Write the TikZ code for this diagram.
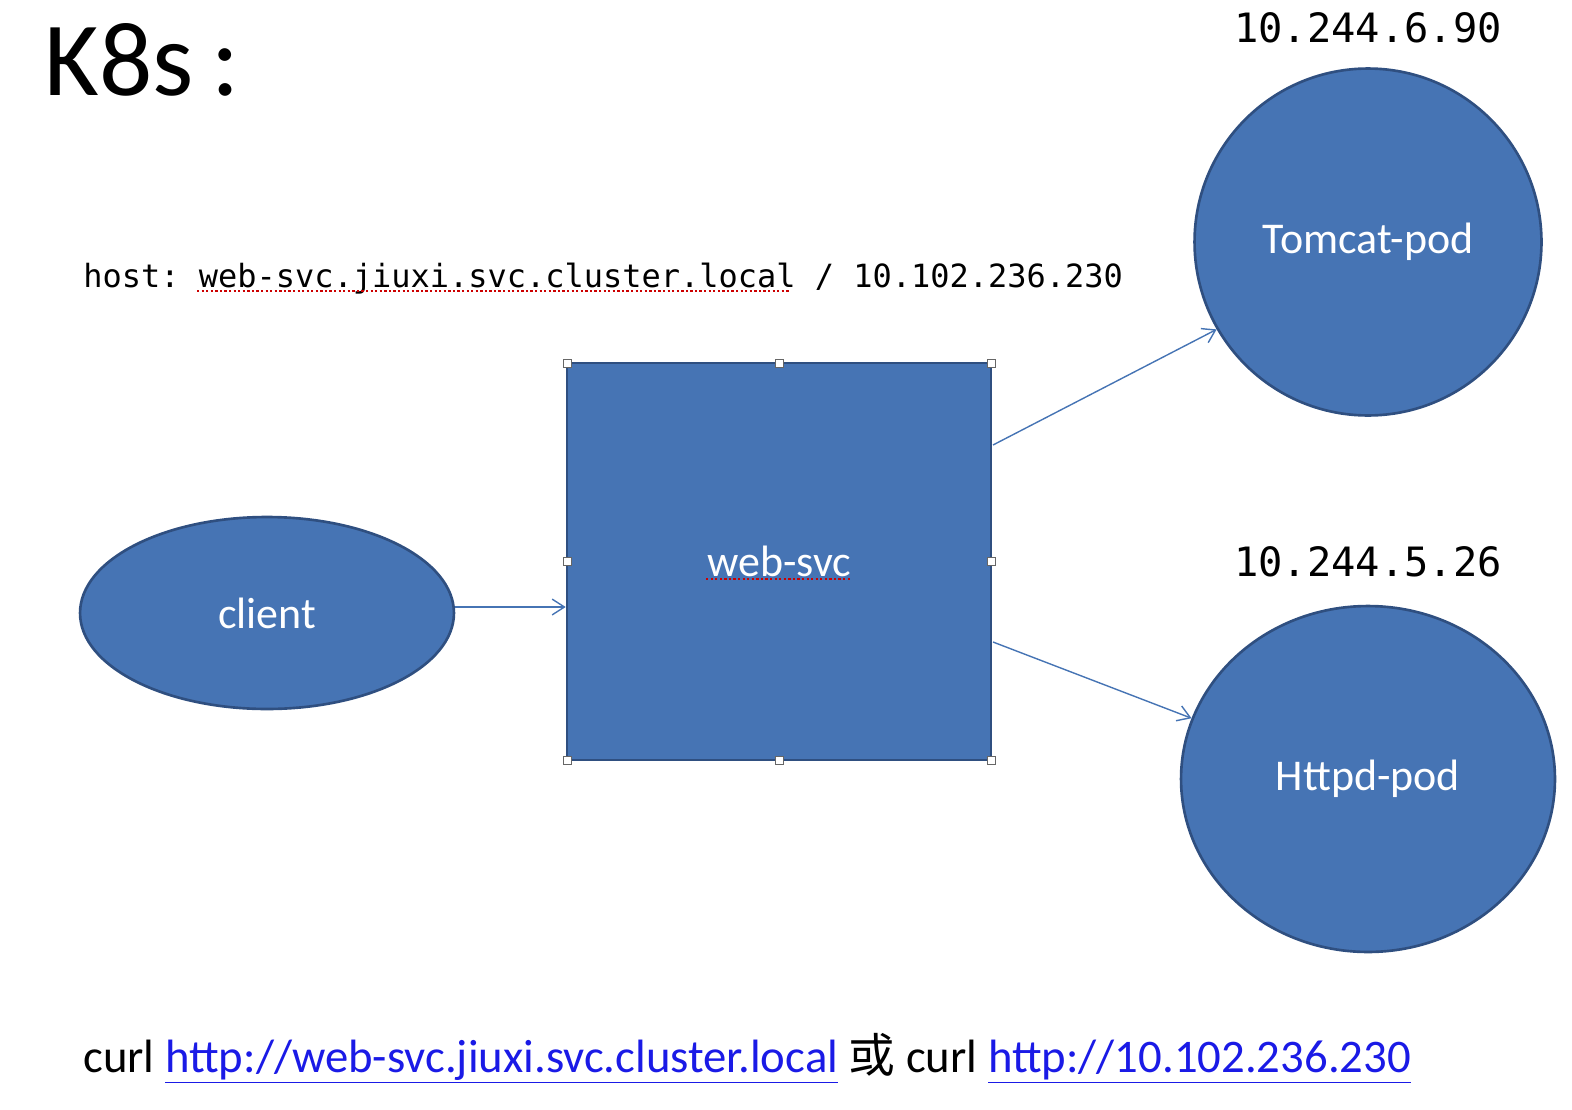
\documentclass[tikz,border=0pt]{standalone}
\usepackage{fontspec}
\setmainfont{Carlito}
\setmonofont{DejaVu Sans Mono}
\newfontfamily\cjk{Noto Sans CJK SC}
\usetikzlibrary{shapes.geometric,arrows.meta}
\definecolor{fillb}{HTML}{4674B4}
\definecolor{edgeb}{HTML}{2F4F80}
\definecolor{linkb}{HTML}{1A1AE6}
\begin{document}
\begin{tikzpicture}[x=0.02cm,y=-0.02cm,
  shp/.style={fill=fillb,draw=edgeb,line width=1.5pt,inner sep=0pt,text=white,font=\fontsize{25}{28}\selectfont},
  conn/.style={draw=fillb,line width=0.8pt,-{Straight Barb[length=7pt,width=9pt]}},
  handle/.style={draw=black!60,fill=white,line width=0.4pt,minimum size=0.16cm,inner sep=0pt},
  ip/.style={font=\ttfamily\fontsize{23}{26}\selectfont},
  squig/.style={red!80!black,line width=1.3pt,dash pattern=on 1.3pt off 1.3pt}]
\useasboundingbox (0,0) rectangle (1572,1109);
\node[anchor=base west,font=\fontsize{60}{66}\selectfont] (title) at (38,95) {K8s\,:};
\node[anchor=base west,font=\ttfamily\fontsize{18.2}{22}\selectfont,inner sep=0pt] (host) at (83,287) {host: web-svc.jiuxi.svc.cluster.local / 10.102.236.230};
\draw[squig] (197,291) -- (790,291);
\node[shp,rectangle,minimum width=8.48cm,minimum height=7.94cm] (svc) at (779,561.5) {web-svc};
\draw[squig] (706,579) -- (850,579);
\foreach \p [count=\i] in {(567,363),(779,363),(991,363),(567,561),(991,561),(567,760),(779,760),(991,760)}
  \node[handle] (h\i) at \p {};
\node[shp,ellipse,minimum width=7.48cm,minimum height=3.84cm] (client) at (267,613) {client};
\node[shp,circle,minimum size=6.94cm] (tomcat) at (1368,242) {Tomcat-pod};
\node[shp,ellipse,minimum width=7.48cm,minimum height=6.92cm] (httpd) at (1368,779) {Httpd-pod};
\node[ip] (ip1) at (1368,28) {10.244.6.90};
\node[ip] (ip2) at (1368,562) {10.244.5.26};
\coordinate (c1) at (455,607);
\coordinate (s1) at (993,445);
\coordinate (s2) at (993,642);
\draw[conn] (c1) -- (c1 -| svc.west);
\draw[conn] (s1) -- (tomcat.-150);
\draw[conn] (s2) -- (httpd.161);
\node[anchor=base west,inner sep=0pt,font=\fontsize{26.6}{30}\selectfont] (curl) at (83,1072)
 {curl \textcolor{linkb}{\underline{http://web-svc.jiuxi.svc.cluster.local}} {\cjk 或} curl \textcolor{linkb}{\underline{http://10.102.236.230}}};
\end{tikzpicture}
\end{document}
